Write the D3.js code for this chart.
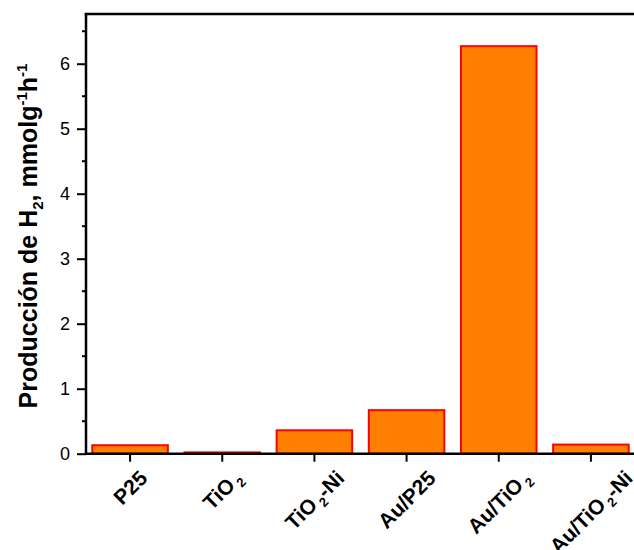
<!DOCTYPE html>
<html lang="es">
<head>
<meta charset="UTF-8">
<title>Producción de H2</title>
<script src="https://d3js.org/d3.v7.min.js"></script>
<style>
  body { margin: 0; background: #fff; }
  svg text { font-family: "Liberation Sans", Arial, sans-serif; }
</style>
</head>
<body>
<svg width="634" height="550"></svg>
<script>
// category labels: [main text, subscript, trailing text]
var categories = ["P25", "TiO2", "TiO2-Ni", "Au/P25", "Au/TiO2", "Au/TiO2-Ni"];
var labelParts = [["P25"], ["TiO", "2"], ["TiO", "2", "-Ni"], ["Au/P25"], ["Au/TiO", "2"], ["Au/TiO", "2", "-Ni"]];
var values = [0.13, 0.02, 0.36, 0.67, 6.27, 0.14];
var yTicks = [0, 1, 2, 3, 4, 5, 6];

var svg = d3.select("svg");

var x = d3.scaleBand().domain(categories).range([84, 637]).paddingInner(0.18).paddingOuter(0.09);
var y = d3.scaleLinear().domain([0, 6.765]).range([453.7, 14]);

var axisX = 86;

// bars
svg.selectAll(".bar")
  .data(values)
  .enter().append("rect")
  .attr("class", "bar")
  .attr("x", function(d, i) { return x(categories[i]); })
  .attr("y", function(d) { return y(d); })
  .attr("width", x.bandwidth())
  .attr("height", function(d) { return y(0) - y(d); })
  .attr("fill", "#ff8000")
  .attr("stroke", "#ff0000")
  .attr("stroke-width", 2);

// left axis
var yAxis = d3.axisLeft(y).tickValues(yTicks).tickSize(9).tickPadding(7).tickFormat(d3.format("d"));
var gy = svg.append("g").attr("transform", "translate(" + axisX + ",0)").call(yAxis);
gy.select(".domain").remove();
gy.selectAll(".tick line").attr("stroke", "#000").attr("stroke-width", 2);
gy.selectAll(".tick text").attr("font-size", 18).attr("fill", "#000");

// minor ticks
var minor = d3.range(0.5, 6.6, 1);
svg.append("g").selectAll("line")
  .data(minor)
  .enter().append("line")
  .attr("x1", axisX - 4).attr("x2", axisX)
  .attr("y1", function(d) { return y(d); })
  .attr("y2", function(d) { return y(d); })
  .attr("stroke", "#000").attr("stroke-width", 2);

svg.append("line")
  .attr("x1", axisX).attr("x2", axisX)
  .attr("y1", y.range()[1] - 1).attr("y2", y(0) + 1)
  .attr("stroke", "#000").attr("stroke-width", 2.5);

// top frame
svg.append("line")
  .attr("x1", axisX - 1.2).attr("x2", 634)
  .attr("y1", 14).attr("y2", 14)
  .attr("stroke", "#000").attr("stroke-width", 2.5);

// bottom axis
var xAxis = d3.axisBottom(x).tickSize(8).tickFormat("");
var gx = svg.append("g").attr("transform", "translate(0," + y(0) + ")").call(xAxis);
gx.select(".domain").remove();
gx.selectAll(".tick line").attr("stroke", "#000").attr("stroke-width", 2);

svg.append("line")
  .attr("x1", axisX - 1.2).attr("x2", 634)
  .attr("y1", y(0)).attr("y2", y(0))
  .attr("stroke", "#000").attr("stroke-width", 2.5);

// rotated category labels: box top-centre hangs under each tick
var labelSize = 21;
var lbl = svg.append("g").selectAll("text")
  .data(categories)
  .enter().append("text")
  .attr("text-anchor", "middle")
  .attr("font-size", labelSize)
  .attr("font-weight", "bold")
  .attr("fill", "#000");

lbl.each(function(d, i) {
  var t = d3.select(this);
  var p = labelParts[i];
  t.append("tspan").text(p[0]);
  if (p.length > 1) {
    t.append("tspan").attr("font-size", 13).attr("dx", 3).attr("dy", 5).text(p[1]);
    if (p.length > 2) {
      t.append("tspan").attr("dy", -5).text(p[2]);
    }
  }
  var len = this.getBBox().width;
  var cap = 0.72 * labelSize;
  var k = Math.SQRT1_2;
  var cx = x(d) + x.bandwidth() / 2 + k * cap / 2;
  var cy = y(0) + 15 + k * (len / 2 + cap);
  t.attr("transform", "translate(" + cx + "," + cy + ") rotate(-45)");
});

// y axis title
var title = svg.append("text")
  .attr("transform", "translate(37,236) rotate(-90)")
  .attr("text-anchor", "middle")
  .attr("font-size", 25)
  .attr("font-weight", "bold")
  .attr("fill", "#000");
title.append("tspan").text("Producción de H");
title.append("tspan").attr("font-size", 15).attr("dy", 6).text("2");
title.append("tspan").attr("dy", -6).text(", mmolg");
title.append("tspan").attr("font-size", 15).attr("dy", -10).text("-1");
title.append("tspan").attr("dy", 10).text("h");
title.append("tspan").attr("font-size", 15).attr("dy", -10).text("-1");
</script>
</body>
</html>
